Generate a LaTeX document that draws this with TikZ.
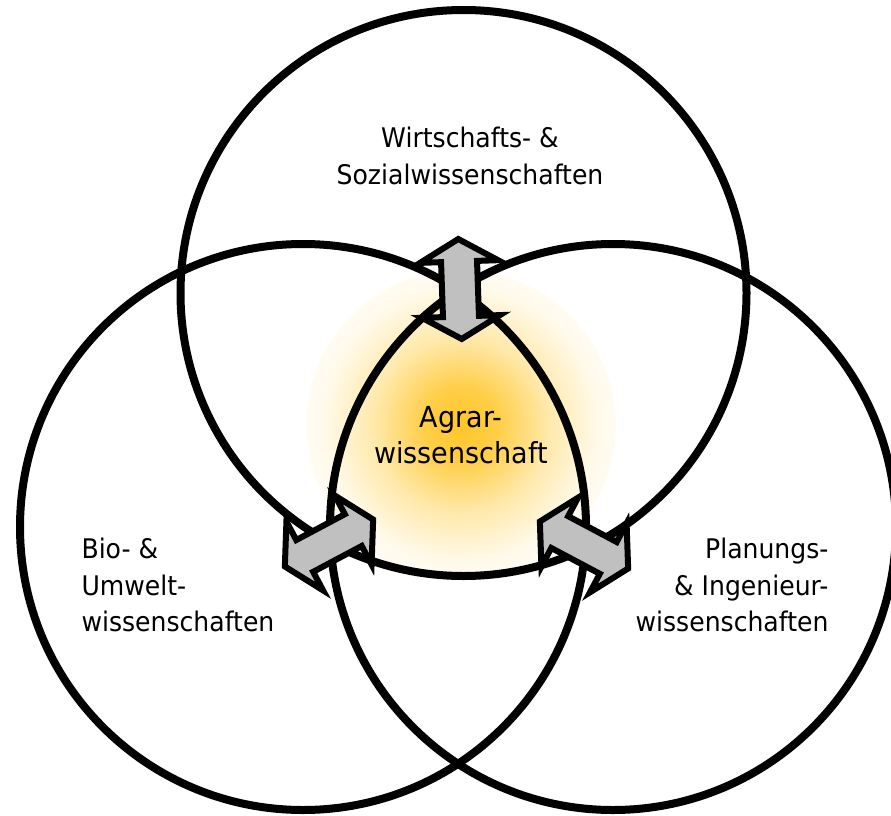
\documentclass[tikz,border=0pt]{standalone}
\usepackage{fontspec}
\setmainfont{DejaVu Sans}[FakeStretch=0.93]
\usetikzlibrary{shapes.arrows}
\definecolor{glowcore}{RGB}{255,198,40}
\definecolor{arrowgray}{RGB}{192,192,192}
\pgfdeclareradialshading{agrarglow}{\pgfpoint{0bp}{0bp}}{color(0bp)=(glowcore); color(6bp)=(glowcore!85!white); color(14bp)=(glowcore!40!white); color(22bp)=(glowcore!10!white); color(29bp)=(white); color(50bp)=(white)}

\begin{document}
\begin{tikzpicture}[x=1pt, y=-1pt,
    field/.style={circle, draw, line width=8pt, minimum size=566pt, inner sep=0pt},
    bridge/.style={double arrow, draw, line width=6pt, fill=arrowgray,
      inner xsep=0pt, inner ysep=15pt, minimum height=100pt,
      double arrow head extend=21pt, double arrow tip angle=120},
    fieldtext/.style={font=\fontsize{27}{36.5}\selectfont}]
  \useasboundingbox (0,0) rectangle (891,816);
  \shade[shading=agrarglow] (461,425) circle[radius=155pt];
  % the three fields
  \node[field] (wiso) at (463.5,293) {};
  \node[field] (bio) at (303,527) {};
  \node[field] (plan) at (613,527) {};
  % arrows between the fields
  \node[bridge, rotate=92] (toWiso) at (460,289) {};
  \node[bridge, rotate=28] (toBio) at (329,543) {};
  \node[bridge, rotate=-28] (toPlan) at (584,545) {};
  % texts
  \node[fieldtext, align=center] (wisoText) at (470,156) {Wirtschafts- \&\\Sozialwissenschaften};
  \node[fieldtext, align=left, anchor=west] (bioText) at (78,585) {Bio- \&\\Umwelt-\\wissenschaften};
  \node[fieldtext, align=right, anchor=east] (planText) at (832,585) {Planungs-\\\& Ingenieur-\\wissenschaften};
  \node[align=center, font=\fontsize{29}{36.5}\selectfont] (agrarText) at (461,435) {Agrar-\\wissenschaft};
\end{tikzpicture}
\end{document}
